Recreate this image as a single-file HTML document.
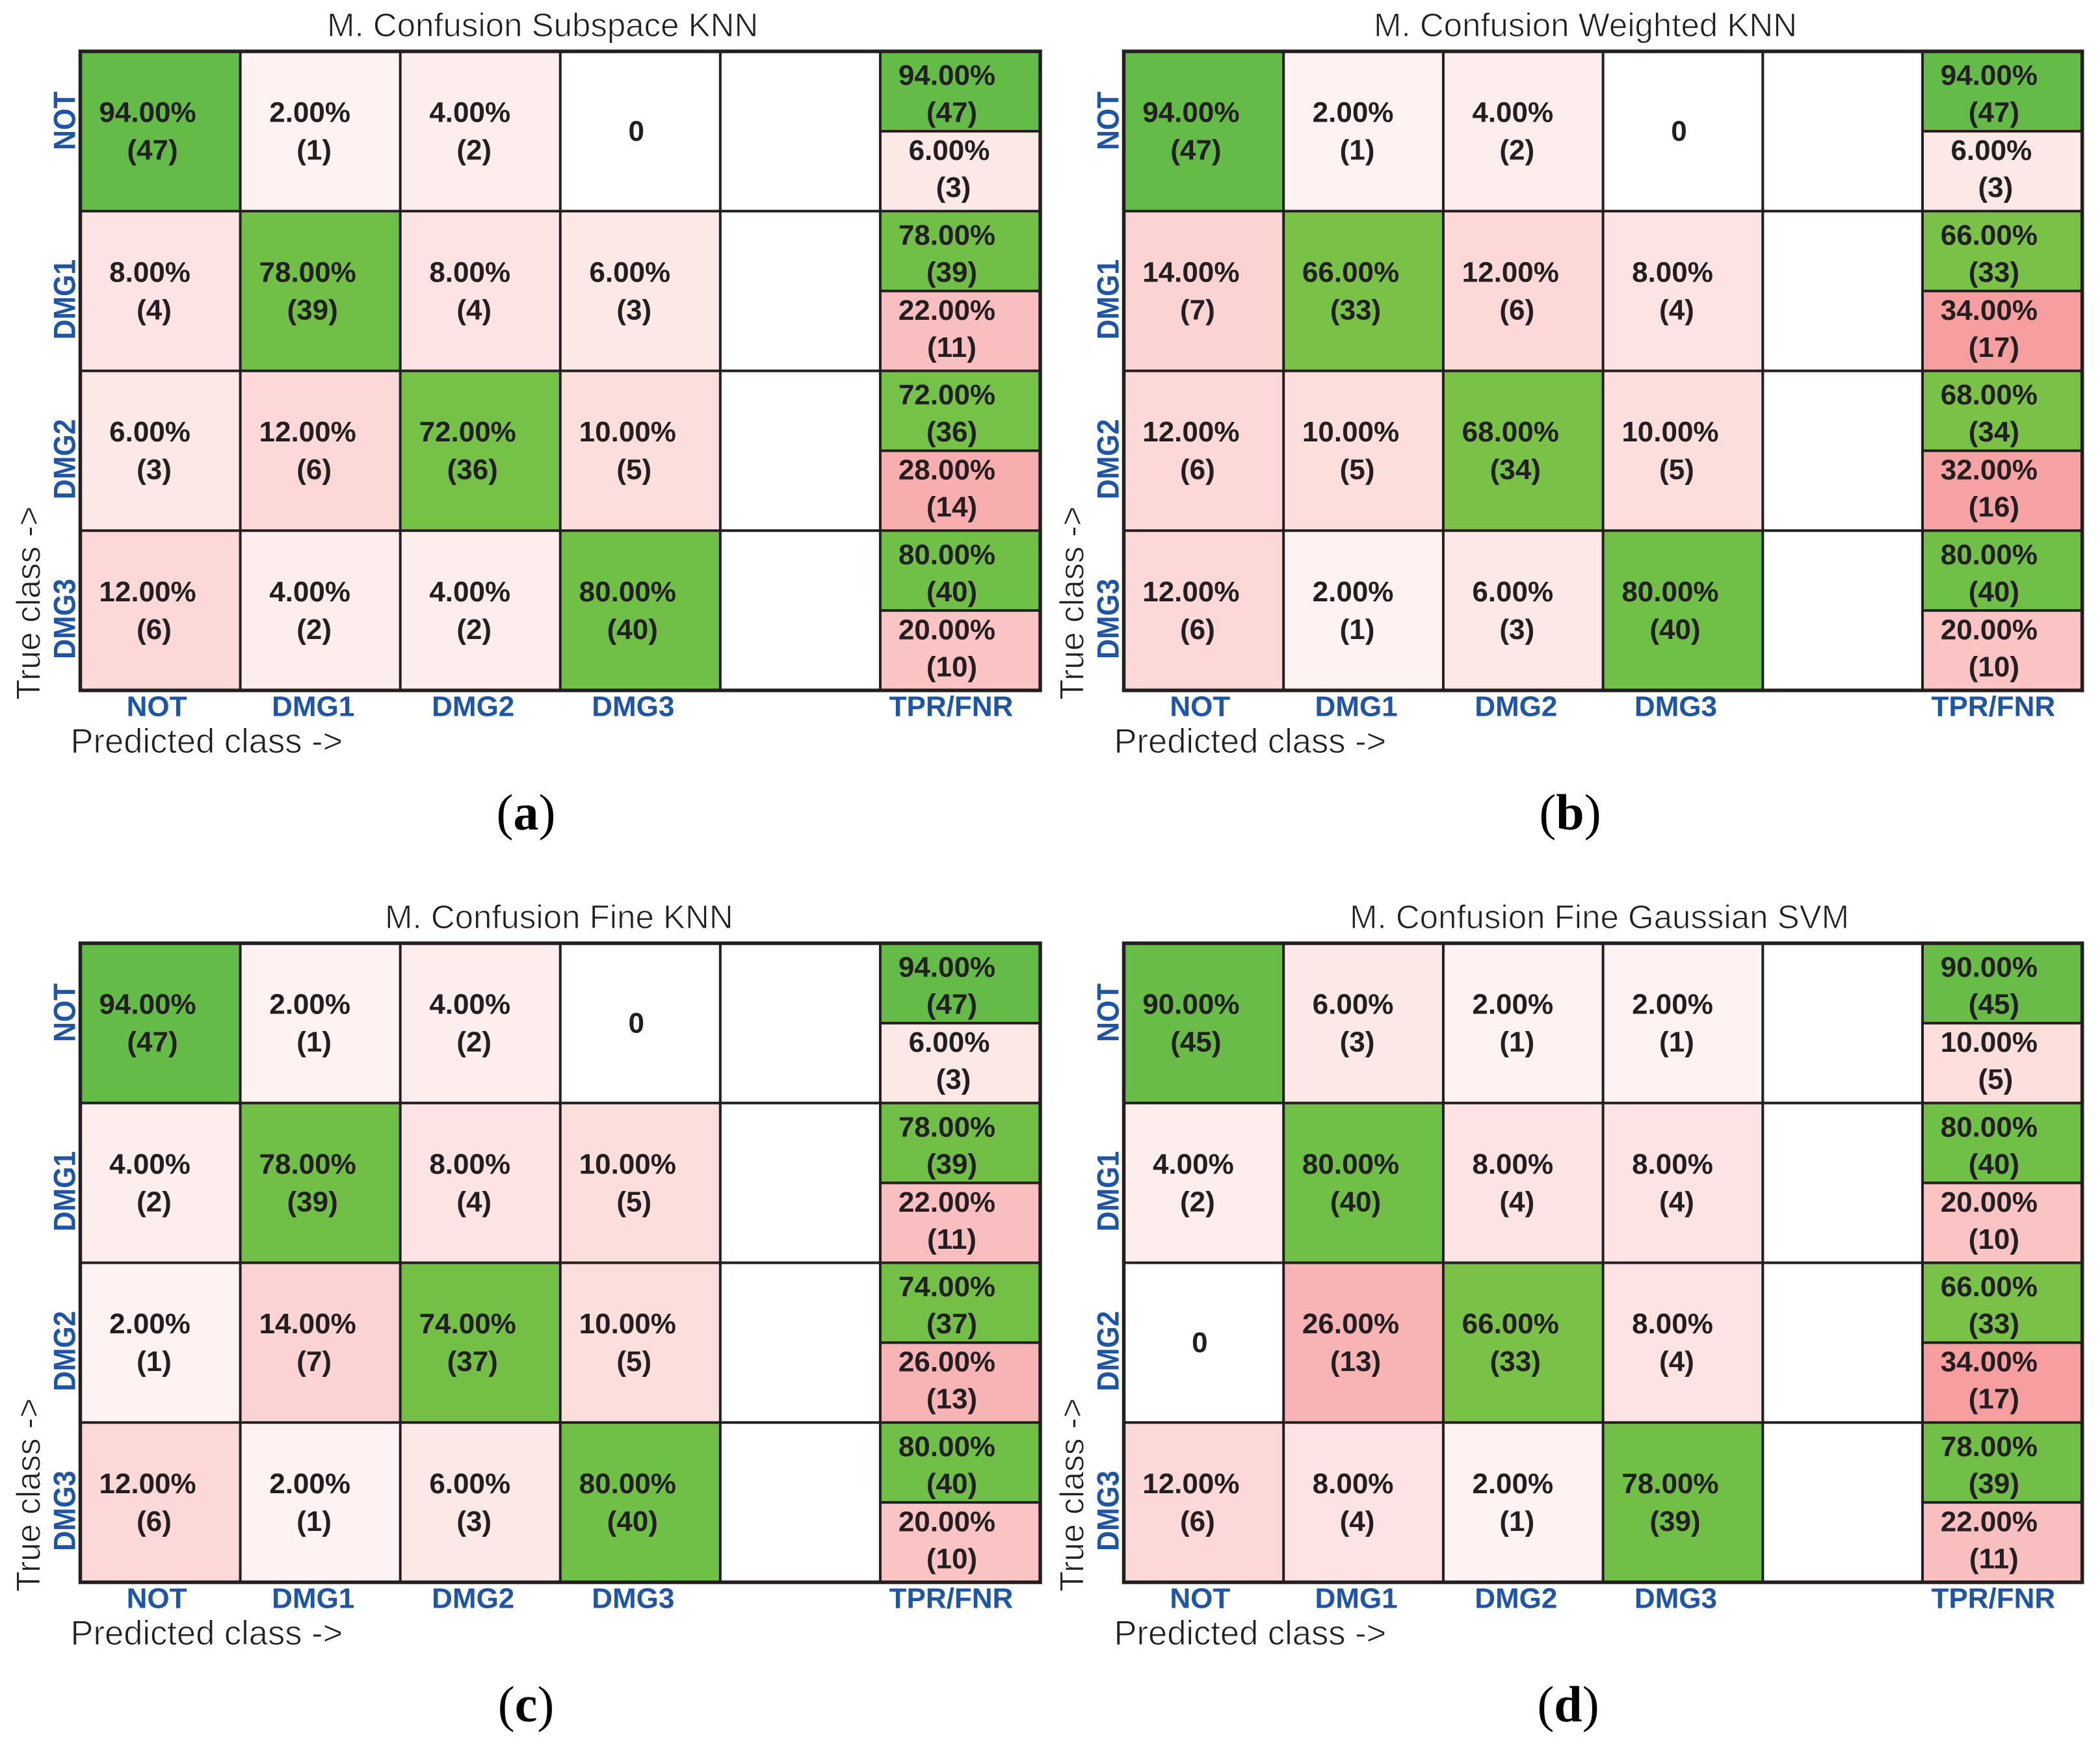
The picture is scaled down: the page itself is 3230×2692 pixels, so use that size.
<!DOCTYPE html>
<html lang="en">
<head>
<meta charset="utf-8">
<title>Confusion matrices</title>
<style>
html,body{margin:0;padding:0;background:#fff;width:3230px;height:2692px;overflow:hidden}
svg{display:block}
text{font-family:"Liberation Sans",sans-serif}
.val{font-size:44px;font-weight:700;fill:#231f20;text-anchor:middle}
.tick{font-size:44px;font-weight:700;fill:#1f55a6;text-anchor:middle}
.ytick{font-size:47.5px;font-weight:700;fill:#1f55a6;text-anchor:middle}
.light{font-size:51px;fill:#231f20;stroke:#fff;stroke-width:1px}
.xt{font-size:52.5px}
.yt{font-size:51.6px}
.sub{font-family:"Liberation Serif",serif;font-size:78px;fill:#000;text-anchor:middle}
.sub .b{font-weight:700}
</style>
</head>
<body>
<svg id="figure" xmlns="http://www.w3.org/2000/svg" width="3230" height="2692" viewBox="0 0 3230 2692">
<rect width="3230" height="2692" fill="#fff"></rect>
</svg>
<script>
const classLabels = ['NOT', 'DMG1', 'DMG2', 'DMG3'];
const summaryLabel = 'TPR/FNR';
const samplesPerClass = 50;
const countsSubspaceKnn = [[47, 1, 2, 0], [4, 39, 4, 3], [3, 6, 36, 5], [6, 2, 2, 40]];
const countsWeightedKnn = [[47, 1, 2, 0], [7, 33, 6, 4], [6, 5, 34, 5], [6, 1, 3, 40]];
const countsFineKnn = [[47, 1, 2, 0], [2, 39, 4, 5], [1, 7, 37, 5], [6, 1, 3, 40]];
const countsGaussianSvm = [[45, 3, 1, 1], [2, 40, 4, 4], [0, 13, 33, 4], [6, 4, 1, 39]];

const NS = 'http://www.w3.org/2000/svg';
const INK = '#231f20';
const svg = document.getElementById('figure');

function make(tag, parent, attrs) {
  const e = document.createElementNS(NS, tag);
  for (const k in attrs) e.setAttribute(k, attrs[k]);
  parent.appendChild(e);
  return e;
}
function goodColor(p) {
  const d = 94 - p;
  return 'rgb(' + Math.round(101 + d * 0.75) + ',' + Math.round(187 + d * 0.25) + ',71)';
}
function badColor(p) {
  if (p === 0) return '#ffffff';
  const t = p / 34;
  return 'rgb(' + Math.round(255 - 9 * t) + ',' + Math.round(248 - 90 * t) + ',' + Math.round(247 - 87 * t) + ')';
}
function percent(c) { return (c / samplesPerClass * 100).toFixed(2) + '%'; }
function pctShift(s) { return s.length > 5 ? -19.5 : -16; }
function cntShift(c) { return c > 9 ? -12 : -9.5; }

function writeValue(g, cx, baseA, baseB, count) {
  const a = percent(count);
  const t1 = make('text', g, {class: 'val', x: cx + pctShift(a), y: baseA});
  t1.textContent = a;
  
  
  const t2 = make('text', g, {class: 'val', x: cx + cntShift(count), y: baseB});
  t2.textContent = '(' + count + ')';
  
  
}

function drawPanel(counts, title, letter, key, left, right, top, titleX, subX, subY) {
  const cw = (right - left) / 6;
  const rh = 245.75;
  const xAt = i => left + i * cw;
  const yAt = i => top + i * rh;
  const bottom = yAt(4);
  const g = make('g', svg, {});
  
  

  counts.forEach((row, r) => {
    row.forEach((c, col) => {
      const p = c / samplesPerClass * 100;
      const rect = make('rect', g, {x: xAt(col), y: yAt(r), width: cw, height: rh, fill: col === r ? goodColor(p) : badColor(p)});
      
      
      const cx = xAt(col) + cw / 2;
      if (c === 0) {
        const z = make('text', g, {class: 'val', x: cx - 6, y: yAt(r) + 137.5});
        z.textContent = '0';
        
        
      } else {
        writeValue(g, cx, yAt(r) + 108.5, yAt(r) + 166.5, c);
      }
    });
    const total = row.reduce((a, b) => a + b, 0);
    const tp = row[r];
    const fn = total - tp;
    const cx = xAt(5) + cw / 2 - 1;
    const tpr = make('rect', g, {x: xAt(5), y: yAt(r), width: cw, height: rh / 2, fill: goodColor(tp / total * 100)});
    
    
    const fnr = make('rect', g, {x: xAt(5), y: yAt(r) + rh / 2, width: cw, height: rh / 2, fill: badColor(fn / total * 100)});
    
    
    writeValue(g, cx, yAt(r) + 51.5, yAt(r) + 108.5, tp);
    writeValue(g, cx, yAt(r) + 167, yAt(r) + 224, fn);
  });

  for (let i = 1; i < 6; i++) {
    const v = make('line', g, {x1: xAt(i), x2: xAt(i), y1: top, y2: bottom, stroke: INK, 'stroke-width': 4});
    
    
  }
  for (let i = 1; i < 4; i++) {
    const h = make('line', g, {x1: left, x2: right, y1: yAt(i), y2: yAt(i), stroke: INK, 'stroke-width': 4});
    
    
  }
  for (let i = 0; i < 4; i++) {
    const h2 = make('line', g, {x1: xAt(5), x2: right, y1: yAt(i) + rh / 2, y2: yAt(i) + rh / 2, stroke: INK, 'stroke-width': 4});
    
    
  }
  const frame = make('rect', g, {x: left, y: top, width: right - left, height: rh * 4, fill: 'none', stroke: INK, 'stroke-width': 5.5});
  
  

  classLabels.forEach((label, i) => {
    const xt = make('text', g, {class: 'tick', x: xAt(i) + cw / 2 + (label === 'NOT' ? -5.5 : -11), y: bottom + 39.5});
    xt.textContent = label;
    
    
    const cy = yAt(i) + rh / 2 + (label === 'NOT' ? -16 : 13);
    const yt = make('text', g, {class: 'ytick', transform: 'translate(' + (left - 8) + ' ' + cy + ') rotate(-90) scale(0.9 1)'});
    yt.textContent = label;
    
    
  });
  const st = make('text', g, {class: 'tick', x: xAt(5) + cw / 2 - 14, y: bottom + 39.5});
  st.textContent = summaryLabel;
  
  

  const tt = make('text', g, {class: 'light', x: titleX, y: top - 23});
  tt.textContent = title;
  
  
  const xa = make('text', g, {class: 'light xt', x: left - 15, y: bottom + 96});
  xa.textContent = 'Predicted class ->';
  
  
  const ya = make('text', g, {class: 'light yt', transform: 'translate(' + (left - 62) + ' ' + (bottom + 14.5) + ') rotate(-90)'});
  ya.textContent = 'True class ->';
  
  

  const sub = make('text', g, {class: 'sub', x: subX, y: subY});
  
  
  const s1 = make('tspan', sub, {});
  s1.textContent = '(';
  const s2 = make('tspan', sub, {class: 'b'});
  s2.textContent = letter;
  const s3 = make('tspan', sub, {});
  s3.textContent = ')';
}

drawPanel(countsSubspaceKnn, 'M. Confusion Subspace KNN', 'a', 'subspace-knn', 123.5, 1600, 79, 503, 809, 1276);
drawPanel(countsWeightedKnn, 'M. Confusion Weighted KNN', 'b', 'weighted-knn', 1728.5, 3202.7, 79, 2113, 2415, 1276);
drawPanel(countsFineKnn, 'M. Confusion Fine KNN', 'c', 'fine-knn', 123.5, 1600, 1451, 592, 809, 2648);
drawPanel(countsGaussianSvm, 'M. Confusion Fine Gaussian SVM', 'd', 'gaussian-svm', 1728.5, 3202.7, 1451, 2076, 2412, 2648);
</script>
</body>
</html>
